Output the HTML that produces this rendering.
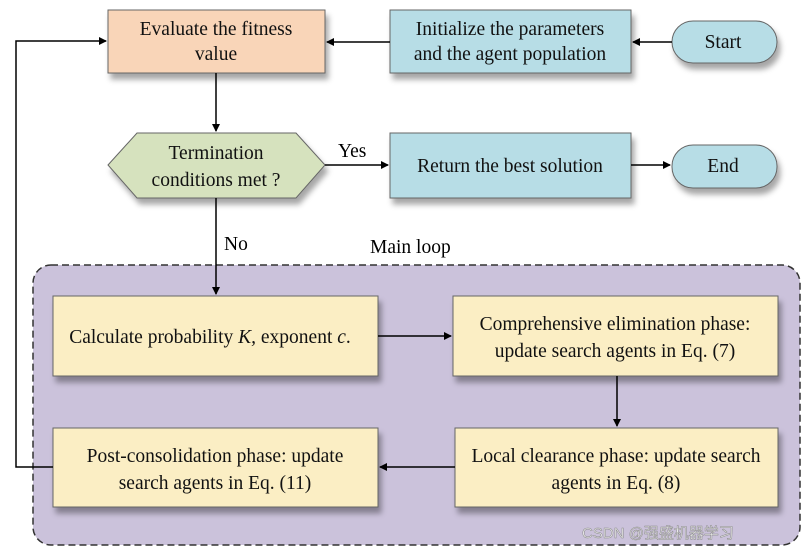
<!DOCTYPE html>
<html><head><meta charset="utf-8"><style>
body{margin:0;background:#fff;width:812px;height:552px;overflow:hidden;position:relative;font-family:"Liberation Serif","Noto Serif CJK SC",serif;}
</style></head><body>
<svg width="812" height="552" style="position:absolute;left:0;top:0" font-family="Liberation Serif, serif" font-size="19.5">
<defs>
<filter id="sh" x="-10%" y="-10%" width="130%" height="150%"><feDropShadow dx="3" dy="6" stdDeviation="3" flood-color="#000" flood-opacity="0.35"/></filter>
<marker id="a" markerWidth="8" markerHeight="8" refX="7" refY="4" orient="auto" markerUnits="userSpaceOnUse"><path d="M0,0 L8,4 L0,8 Z" fill="#000"/></marker>
</defs>
<rect x="33" y="265" width="767" height="280" rx="18" fill="#cbc2db" stroke="#333" stroke-width="1.5" stroke-dasharray="7,4"/>
<text x="370" y="253">Main loop</text>
<g filter="url(#sh)" stroke="#666" stroke-width="1">
<rect x="108" y="10" width="217" height="63" fill="#f9d5b8"/>
<rect x="390" y="10" width="241" height="63" fill="#b7dde6"/>
<rect x="672" y="21" width="105" height="42" rx="21" fill="#b7dde6"/>
<polygon points="108,165 137,133 296,133 325,165 296,198 137,198" fill="#d6e2be"/>
<rect x="390" y="133" width="241" height="65" fill="#b7dde6"/>
<rect x="672" y="145" width="105" height="43" rx="21" fill="#b7dde6"/>
<rect x="53" y="296" width="325" height="80" fill="#fbeec4"/>
<rect x="453" y="296" width="325" height="80" fill="#fbeec4"/>
<rect x="53" y="428" width="325" height="79" fill="#fbeec4"/>
<rect x="455" y="428" width="323" height="79" fill="#fbeec4"/>
</g>
<g stroke="#000" stroke-width="1.5" fill="none">
<line x1="672" y1="42" x2="633" y2="42" marker-end="url(#a)"/>
<line x1="390" y1="42" x2="327" y2="42" marker-end="url(#a)"/>
<line x1="216" y1="73" x2="216" y2="131" marker-end="url(#a)"/>
<line x1="325" y1="165" x2="388" y2="165" marker-end="url(#a)"/>
<line x1="631" y1="165" x2="670" y2="165" marker-end="url(#a)"/>
<line x1="216" y1="198" x2="216" y2="294" marker-end="url(#a)"/>
<line x1="378" y1="336" x2="451" y2="336" marker-end="url(#a)"/>
<line x1="617" y1="376" x2="617" y2="426" marker-end="url(#a)"/>
<line x1="455" y1="467" x2="380" y2="467" marker-end="url(#a)"/>
<polyline points="53,467 16,467 16,41 106,41" marker-end="url(#a)"/>
</g>
<g text-anchor="middle" fill="#111">
<text x="216" y="35">Evaluate the fitness</text>
<text x="216" y="60">value</text>
<text x="510" y="35">Initialize the parameters</text>
<text x="510" y="60">and the agent population</text>
<text x="723" y="48">Start</text>
<text x="216" y="159">Termination</text>
<text x="216" y="186">conditions met ?</text>
<text x="510" y="172">Return the best solution</text>
<text x="723" y="172">End</text>
<text x="210" y="343">Calculate probability <tspan font-style="italic">K,</tspan> exponent <tspan font-style="italic">c</tspan>.</text>
<text x="615" y="330">Comprehensive elimination phase:</text>
<text x="615" y="357">update search agents in Eq. (7)</text>
<text x="215" y="462">Post-consolidation phase: update</text>
<text x="215" y="489">search agents in Eq. (11)</text>
<text x="616" y="462">Local clearance phase: update search</text>
<text x="616" y="489">agents in Eq. (8)</text>
</g>
<text x="338" y="157">Yes</text>
<text x="224" y="250">No</text>
<text x="582" y="538" font-family="Liberation Sans, Noto Sans CJK SC, sans-serif" font-size="15" fill="#eee" stroke="#888" stroke-width="0.5">CSDN @强盛机器学习</text>
</svg>
</body></html>
